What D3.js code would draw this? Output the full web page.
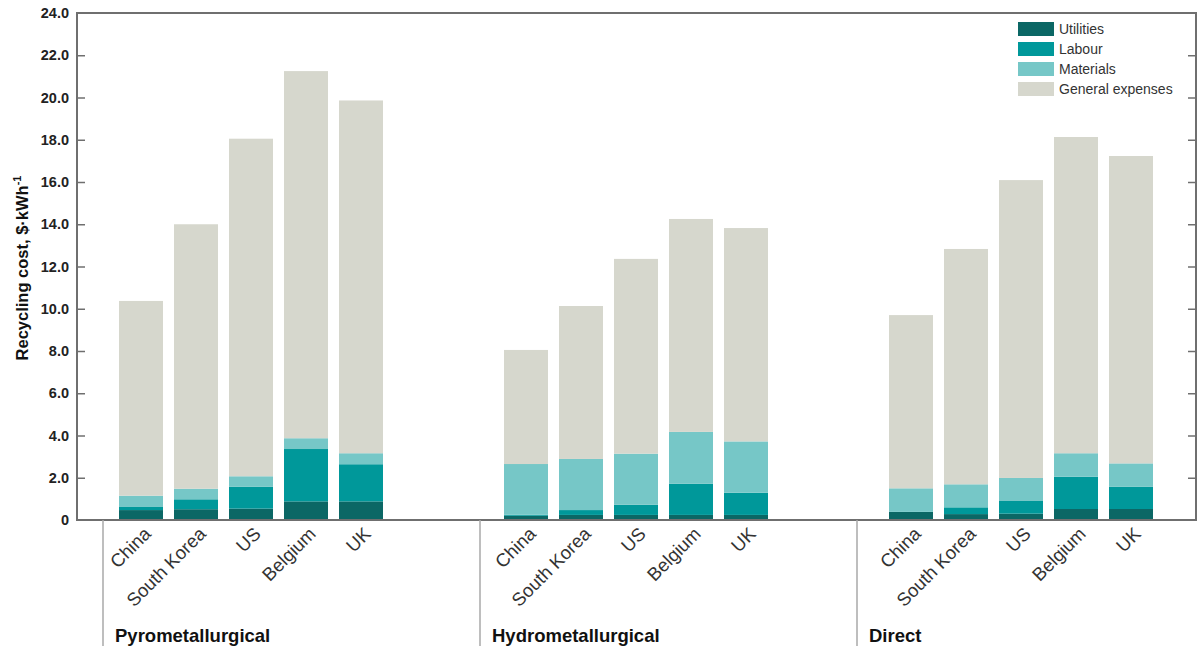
<!DOCTYPE html>
<html>
<head>
<meta charset="utf-8">
<script src="https://cdn.jsdelivr.net/npm/d3@7"></script>
<style>
  html, body { margin: 0; padding: 0; background: #fff; }
  svg { display: block; font-family: "Liberation Sans", Arial, Helvetica, sans-serif; }
</style>
</head>
<body>
<svg id="chart" width="1198" height="652"></svg>
<script>
// Recycling routes and the countries compared within each route
const routes = ["Pyrometallurgical", "Hydrometallurgical", "Direct"];
const countries = ["China", "South Korea", "US", "Belgium", "UK"];
const components = ["Utilities", "Labour", "Materials", "General expenses"];

// Cost components, $ per kWh, in country order
const pyroUtilities = [0.47, 0.51, 0.54, 0.88, 0.88];
const pyroLabour    = [0.17, 0.47, 1.04, 2.48, 1.76];
const pyroMaterials = [0.51, 0.50, 0.49, 0.51, 0.52];
const pyroGeneral   = [9.22, 12.52, 15.98, 17.38, 16.70];

const hydroUtilities = [0.20, 0.24, 0.24, 0.24, 0.24];
const hydroLabour    = [0.05, 0.23, 0.48, 1.48, 1.05];
const hydroMaterials = [2.40, 2.42, 2.42, 2.45, 2.43];
const hydroGeneral   = [5.40, 7.24, 9.22, 10.08, 10.10];

const directUtilities = [0.38, 0.28, 0.30, 0.52, 0.52];
const directLabour    = [0.02, 0.32, 0.60, 1.53, 1.06];
const directMaterials = [1.10, 1.09, 1.09, 1.11, 1.10];
const directGeneral   = [8.20, 11.14, 14.10, 14.97, 14.55];

const yTicks = [0, 2, 4, 6, 8, 10, 12, 14, 16, 18, 20, 22, 24];

const seriesByRoute = {
  "Pyrometallurgical": [pyroUtilities, pyroLabour, pyroMaterials, pyroGeneral],
  "Hydrometallurgical": [hydroUtilities, hydroLabour, hydroMaterials, hydroGeneral],
  "Direct": [directUtilities, directLabour, directMaterials, directGeneral]
};

// Flat table: one row per route/country with a column per component
const rows = [];
routes.forEach(r => {
  countries.forEach((c, i) => {
    const row = { route: r, country: c };
    components.forEach((k, j) => { row[k] = seriesByRoute[r][j][i]; });
    rows.push(row);
  });
});

const colors = {
  "Utilities": "#0b6765",
  "Labour": "#00989a",
  "Materials": "#76c7c7",
  "General expenses": "#d6d7cd"
};

const svg = d3.select("#chart");
const plot = { left: 77, right: 1196, top: 13, bottom: 520 };

const y = d3.scaleLinear().domain([0, 24]).range([plot.bottom, plot.top]);
const xRoute = d3.scalePoint().domain(routes).range([251, 1021]);
const xCountry = d3.scaleBand().domain(countries)
  .range([-137.5, 137.5]).paddingInner(0.2).paddingOuter(0.1);
const xSeparator = d3.scalePoint().domain(routes).range([103, 857]);

// Stacked bars
const stack = d3.stack().keys(components);
const layers = stack(rows);

svg.append("g").selectAll("g")
  .data(layers)
  .join("g")
  .attr("fill", d => colors[d.key])
  .selectAll("rect")
  .data(d => d)
  .join("rect")
  .attr("x", d => xRoute(d.data.route) + xCountry(d.data.country))
  .attr("width", xCountry.bandwidth())
  .attr("y", d => y(d[1]))
  .attr("height", d => y(d[0]) - y(d[1]));

// Frame with inward ticks on both sides
const frameColor = "#6f6f6f";
const leftAxis = d3.axisLeft(y).tickValues(yTicks)
  .tickSize(-8).tickPadding(8)
  .tickFormat(d => d === 0 ? "0" : d3.format(".1f")(d));
const gl = svg.append("g").attr("transform", `translate(${plot.left},0)`).call(leftAxis);
gl.select(".domain").remove();
gl.selectAll(".tick line").attr("stroke", frameColor).attr("stroke-width", 1.5)
  .filter(d => d === 0 || d === 24).remove();
gl.selectAll(".tick text")
  .attr("fill", "#222").attr("font-size", 14.5).attr("font-weight", "bold")
  .attr("font-family", "'Liberation Sans', Arial, sans-serif");

const rightAxis = d3.axisRight(y).tickValues(yTicks).tickSize(-8).tickFormat("");
const gr = svg.append("g").attr("transform", `translate(${plot.right},0)`).call(rightAxis);
gr.select(".domain").remove();
gr.selectAll(".tick line").attr("stroke", frameColor).attr("stroke-width", 1.5)
  .filter(d => d === 0 || d === 24).remove();

svg.append("rect")
  .attr("x", plot.left).attr("y", plot.top)
  .attr("width", plot.right - plot.left).attr("height", plot.bottom - plot.top)
  .attr("fill", "none").attr("stroke", frameColor).attr("stroke-width", 2);

// Y axis title
const title = svg.append("text")
  .attr("transform", `translate(28,268) rotate(-90)`)
  .attr("text-anchor", "middle")
  .attr("font-size", 16.5).attr("font-weight", "bold").attr("fill", "#111");
title.append("tspan").text("Recycling cost, $\u00B7kWh");
title.append("tspan").attr("dy", -7).attr("font-size", 11).text("-1");

// Route separators below the axis
svg.append("g").selectAll("line")
  .data(routes)
  .join("line")
  .attr("x1", d => xSeparator(d)).attr("x2", d => xSeparator(d))
  .attr("y1", plot.bottom).attr("y2", 646)
  .attr("stroke", "#a8a8a8").attr("stroke-width", 1.5);

// Country labels, rotated
svg.append("g").selectAll("text")
  .data(rows)
  .join("text")
  .attr("transform", d => {
    const cx = xRoute(d.route) + xCountry(d.country) + xCountry.bandwidth() / 2 + 11;
    return `translate(${cx},535) rotate(-45)`;
  })
  .attr("text-anchor", "end")
  .attr("font-size", 18.5).attr("fill", "#333")
  .text(d => d.country);

// Route labels
svg.append("g").selectAll("text")
  .data(routes)
  .join("text")
  .attr("x", d => xSeparator(d) + 12)
  .attr("y", 642)
  .attr("font-size", 18.5).attr("font-weight", "bold").attr("fill", "#111")
  .text(d => d);

// Legend
const legend = svg.append("g").attr("transform", "translate(1018,22)");
const li = legend.selectAll("g")
  .data(components)
  .join("g")
  .attr("transform", (d, i) => `translate(0,${i * 20})`);
li.append("rect").attr("width", 36).attr("height", 14).attr("fill", d => colors[d]);
li.append("text").attr("x", 41).attr("y", 12)
  .attr("font-size", 14).attr("fill", "#333").text(d => d);
</script>
</body>
</html>
